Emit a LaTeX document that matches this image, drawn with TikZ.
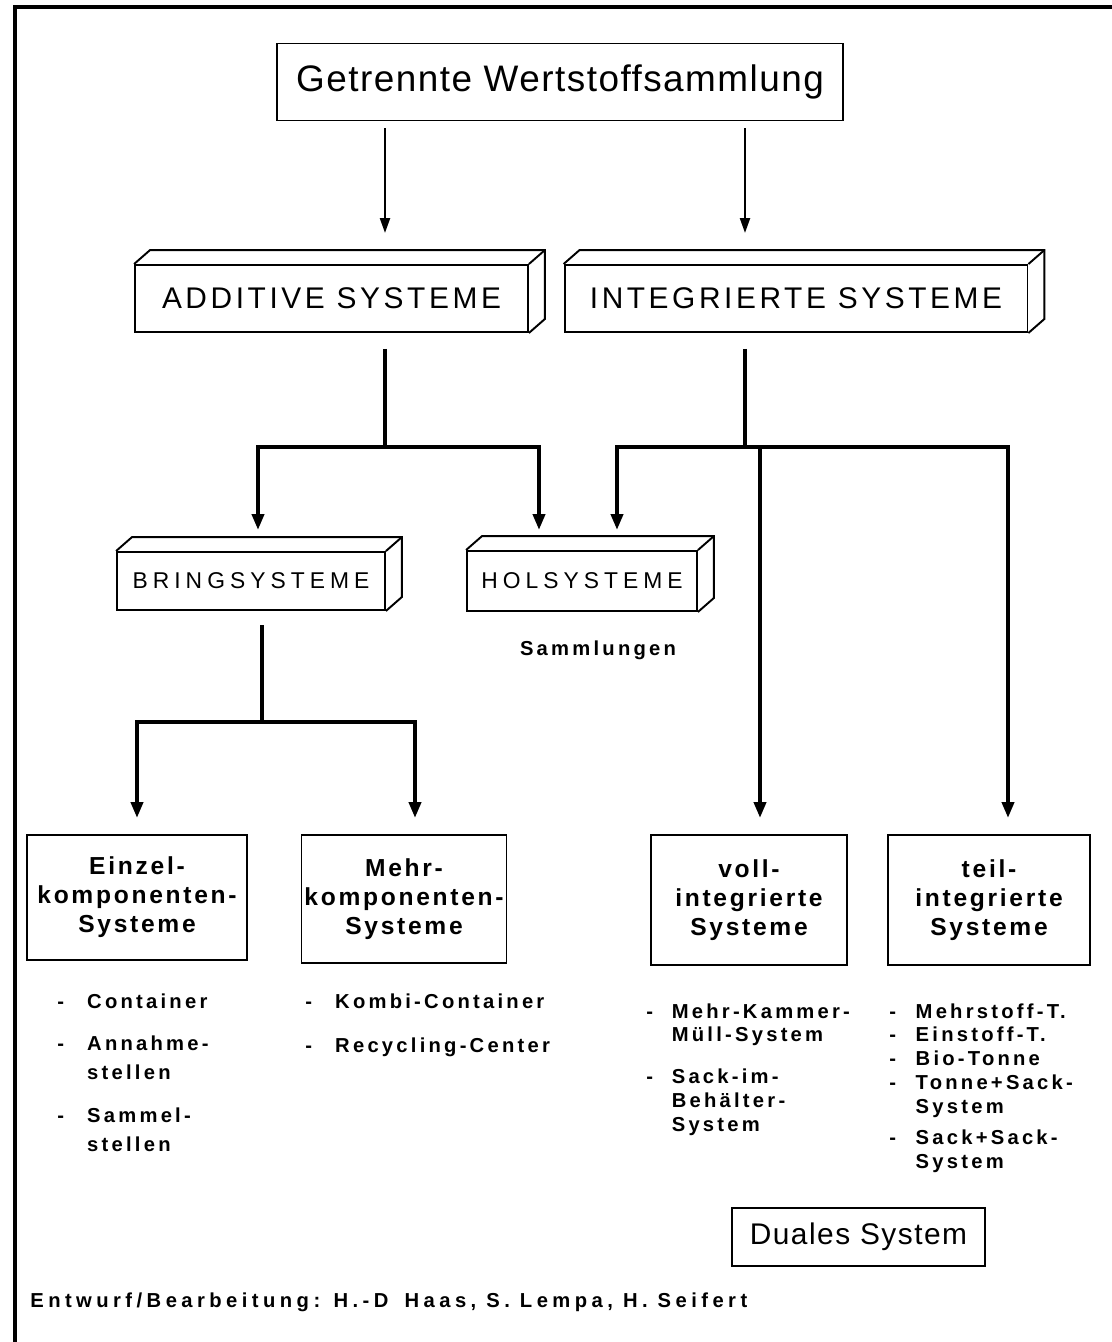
\documentclass[tikz,border=0pt]{standalone}
\usepackage{fontspec}
\setmainfont{Liberation Sans}
\usetikzlibrary{arrows.meta}

\newcommand\listfont{\bfseries\addfontfeature{LetterSpace=16}}
\newcommand\itemdash[1][17pt]{\makebox[#1][l]{-}}
\newcommand\itemgap[1][17pt]{\hspace*{#1}}
\newcommand\deepfaces[1]{%
  \draw[line width=1.1pt] (#1.north west) -- ++(16,-14) -| ([shift={(16,-14)}]#1.south east) -- (#1.south east);
  \draw[line width=1.1pt] (#1.north east) -- ++(16,-14);}

\begin{document}
\begin{tikzpicture}[x=0.02cm, y=-0.02cm,
    frame/.style={draw, line width=1.1pt, inner sep=0pt, align=center},
    bigtext/.style={font=\fontsize{17}{20}\selectfont\addfontfeature{LetterSpace=12}},
    midtext/.style={font=\fontsize{13}{16}\selectfont\addfontfeature{LetterSpace=22}},
    boldtext/.style={font=\fontsize{14}{16.5}\selectfont\bfseries\addfontfeature{LetterSpace=11}},
    listtext/.style={inner sep=0pt, align=left, font=\fontsize{11.5}{16.4}\selectfont\listfont},
    listtight/.style={listtext, font=\fontsize{11.5}{13.6}\selectfont\listfont},
    arr/.style={line width=1.3pt, -{Triangle[length=0.3cm,width=0.2cm]}},
    branch/.style={line width=2.2pt},
    branch arr/.style={branch, -{Triangle[length=0.32cm,width=0.24cm]}}]
    \useasboundingbox (0,0) rectangle (1112,1342);
    \draw[line width=2pt] (1112,7) -- (15,7) -- (15,1342);

    \node[frame, minimum width=11.32cm, minimum height=1.54cm,
          font=\fontsize{21}{24}\selectfont\addfontfeature{LetterSpace=4}] (wsa) at (560,82) {Getrennte Wertstoffsammlung};
    \node[frame, bigtext, minimum width=7.86cm, minimum height=1.34cm] (add) at (331.5,298.5) {ADDITIVE SYSTEME};
    \node[frame, bigtext, minimum width=9.26cm, minimum height=1.34cm] (int) at (796,298.5) {INTEGRIERTE SYSTEME};
    \deepfaces{add}
    \deepfaces{int}
    \node[frame, midtext, minimum width=5.36cm, minimum height=1.16cm] (bring) at (251,581) {BRINGSYSTEME};
    \node[frame, midtext, minimum width=4.6cm, minimum height=1.2cm] (hol) at (582,581) {HOLSYSTEME};
    \deepfaces{bring}
    \deepfaces{hol}
    \node[listtext] (saml) at (598,650) {Sammlungen};

    \node[frame, boldtext, minimum width=4.4cm, minimum height=2.5cm] (einzel) at (137,897.5) {Einzel-\\komponenten-\\Systeme};
    \node[frame, boldtext, minimum width=4.1cm, minimum height=2.56cm] (mehr) at (404,899) {Mehr-\\komponenten-\\Systeme};
    \node[frame, boldtext, minimum width=3.92cm, minimum height=2.6cm] (voll) at (749,900) {voll-\\integrierte\\Systeme};
    \node[frame, boldtext, minimum width=4.04cm, minimum height=2.6cm] (teil) at (989,900) {teil-\\integrierte\\Systeme};
    \node[frame, font=\fontsize{17}{20}\selectfont\addfontfeature{LetterSpace=5},
          minimum width=5.06cm, minimum height=1.16cm] (dual) at (858.5,1237) {Duales System};

    \coordinate (tadd) at (385,233);
    \coordinate (tint) at (745,233);
    \draw[arr, shorten <=4pt] (tadd |- wsa.south) -- (tadd);
    \draw[arr, shorten <=4pt] (tint |- wsa.south) -- (tint);

    \coordinate (jadd) at (385,447);
    \coordinate (tbring) at (258,530);
    \coordinate (thol) at (539,530);
    \draw[branch, shorten <=9pt] (jadd |- add.south) -- (jadd);
    \draw[branch arr] (jadd) -| (tbring);
    \draw[branch arr] (jadd) -| (thol);

    \coordinate (jint) at (745,447);
    \coordinate (thol2) at (617,530);
    \coordinate (tvoll) at (760,818);
    \coordinate (tteil) at (1008,818);
    \draw[branch, shorten <=9pt] (jint |- int.south) -- (jint);
    \draw[branch arr] (jint) -| (thol2);
    \draw[branch arr] (jint) -| (tvoll);
    \draw[branch arr] (jint) -| (tteil);

    \coordinate (jbring) at (262,722);
    \coordinate (teinzel) at (137,818);
    \coordinate (tmehr) at (415,818);
    \draw[branch, shorten <=8pt] (jbring |- bring.south) -- (jbring);
    \draw[branch arr] (jbring) -| (teinzel);
    \draw[branch arr] (jbring) -| (tmehr);

    \node[listtext, anchor=north west] (einzellist) at (57,993)
        {\itemdash Container\\[8pt]\itemdash Annahme-\\\itemgap stellen\\[8pt]\itemdash Sammel-\\\itemgap stellen};
    \node[listtext, anchor=north west] (mehrlist) at (305,993)
        {\itemdash Kombi-Container\\[9pt]\itemdash Recycling-Center};
    \node[listtight, anchor=north west] (volllist) at (646,1003)
        {\itemdash[14.5pt]Mehr-Kammer-\\\itemgap[14.5pt]Müll-System\\[10pt]\itemdash[14.5pt]Sack-im-\\\itemgap[14.5pt]Behälter-\\\itemgap[14.5pt]System};
    \node[listtight, anchor=north west] (teillist) at (889,1003)
        {\itemdash[15pt]Mehrstoff-T.\\\itemdash[15pt]Einstoff-T.\\\itemdash[15pt]Bio-Tonne\\\itemdash[15pt]Tonne+Sack-\\\itemgap[15pt]System\\[4pt]\itemdash[15pt]Sack+Sack-\\\itemgap[15pt]System};

    \node[listtext, anchor=west, font=\fontsize{11.5}{14}\selectfont\bfseries\addfontfeature{LetterSpace=22}] (credit) at (30,1302)
        {Entwurf/Bearbeitung: H.-D\hspace{0.8em}Haas, S. Lempa, H. Seifert};
\end{tikzpicture}
\end{document}
